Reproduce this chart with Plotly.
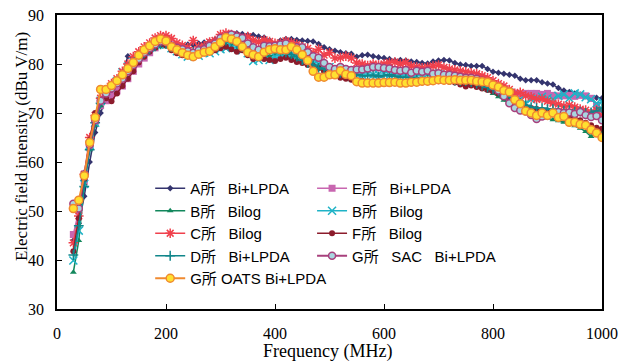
import plotly.graph_objects as go

freq = list(range(30, 1001, 10))

a_bilpda = [
    44.0, 47.5, 53.0, 60.0, 66.0, 70.0, 73.0, 74.5, 76.0, 78.0,
    81.6, 81.0, 81.5, 82.5, 83.3, 84.0, 84.5, 84.8, 84.0, 83.8,
    83.8, 84.0, 83.9, 84.2, 84.4, 84.6, 85.0, 85.5, 85.9, 86.2,
    86.3, 86.1, 85.9, 85.9, 85.6, 85.4, 84.8, 84.1, 84.8, 85.1,
    85.1, 84.9, 84.8, 84.7, 84.6, 84.1, 83.4, 83.0, 82.7, 82.4,
    82.2, 82.1, 81.5, 81.8, 81.9, 81.6, 81.4, 81.2, 81.0, 80.7,
    80.8, 80.7, 80.5, 80.4, 80.2, 80.1, 80.5, 80.7, 80.8, 80.7,
    80.2, 79.9, 79.8, 79.6, 79.6, 79.6, 79.0, 78.4, 78.2, 78.0,
    77.8, 77.6, 77.0, 76.7, 76.7, 76.7, 76.3, 76.0, 75.8, 75.1,
    74.6, 74.3, 74.0, 73.8, 73.4, 72.9, 73.1, 73.0]

e_bilpda = [
    45.2, 50.0, 56.0, 63.0, 68.0, 71.5, 72.5, 73.5, 74.5, 75.5,
    77.0, 78.5, 80.0, 81.2, 82.3, 83.3, 84.0, 84.2, 83.6, 83.2,
    82.8, 82.5, 82.2, 82.6, 82.9, 83.5, 84.0, 85.0, 85.4, 85.8,
    85.4, 85.0, 84.0, 83.3, 82.8, 83.4, 83.4, 83.5, 83.8, 84.0,
    83.4, 83.2, 83.0, 82.2, 81.4, 81.0, 80.0, 79.2, 78.8, 79.2,
    78.8, 78.6, 78.7, 78.7, 78.9, 79.2, 79.2, 79.0, 78.9, 78.6,
    78.4, 78.6, 78.0, 78.4, 78.2, 78.4, 77.8, 77.9, 77.6, 77.6,
    77.4, 77.2, 77.0, 77.0, 76.8, 76.5, 76.0, 75.6, 75.0, 74.5,
    74.0, 74.0, 73.8, 74.0, 74.0, 74.0, 73.8, 74.0, 73.6, 73.5,
    73.5, 73.6, 73.4, 73.6, 73.5, 73.0, 71.5, 70.5]

b_bilog_green = [
    37.5, 44.0, 55.5, 62.5, 67.5, 71.5, 73.5, 75.5, 76.0, 77.0,
    78.5, 79.8, 81.0, 82.0, 82.8, 83.2, 83.5, 83.5, 83.2, 83.0,
    82.8, 82.6, 82.4, 82.5, 82.8, 83.0, 83.4, 83.8, 84.0, 84.1,
    84.0, 83.6, 82.9, 82.2, 81.8, 81.8, 81.6, 82.0, 82.1, 81.8,
    81.4, 80.9, 80.4, 79.9, 79.4, 79.0, 78.6, 78.2, 77.8, 77.4,
    77.1, 76.8, 76.7, 76.5, 76.3, 76.3, 76.3, 76.3, 76.3, 76.3,
    76.2, 76.3, 76.2, 76.3, 76.3, 76.4, 76.5, 76.5, 76.6, 76.6,
    76.6, 76.5, 76.3, 76.0, 75.5, 75.0, 74.6, 74.0, 73.3, 72.6,
    71.8, 71.2, 70.8, 70.3, 70.0, 69.7, 69.4, 69.0, 68.6, 68.4,
    68.1, 67.8, 67.4, 66.9, 66.2, 65.2, 65.8, 66.0]

b_bilog_cyan = [
    39.9, 46.0, 55.5, 63.5, 68.0, 72.5, 74.5, 75.0, 76.5, 78.3,
    79.5, 80.5, 81.5, 82.5, 83.3, 84.0, 84.2, 84.0, 83.2, 82.6,
    82.0, 81.5, 82.2, 81.7, 82.3, 82.2, 82.6, 83.0, 83.2, 83.6,
    83.3, 82.8, 82.2, 80.6, 80.8, 81.4, 80.8, 81.5, 82.0, 82.3,
    82.0, 81.7, 81.3, 80.7, 80.4, 80.0, 79.7, 79.4, 79.1, 78.9,
    78.5, 78.2, 78.0, 77.8, 78.0, 77.8, 77.9, 78.0, 77.7, 77.8,
    77.6, 77.8, 77.4, 77.6, 77.8, 77.9, 78.2, 78.0, 77.8, 77.7,
    77.5, 77.2, 77.0, 76.8, 76.6, 76.3, 76.0, 75.6, 75.0, 74.5,
    74.2, 73.5, 72.8, 72.0, 72.8, 73.0, 73.3, 73.0, 72.8, 73.5,
    73.8, 73.0, 74.0, 73.8, 73.2, 72.8, 72.0, 72.3]

c_bilog = [
    43.5, 49.0, 57.5, 65.0, 69.5, 73.0, 74.5, 76.0, 77.0, 78.5,
    80.0, 81.5, 82.5, 83.5, 84.3, 85.3, 85.8, 85.8, 85.2, 84.3,
    83.8, 83.3, 84.8, 83.5, 83.7, 84.5, 84.8, 86.0, 86.3, 86.0,
    85.7, 85.2, 85.6, 84.8, 84.5, 84.9, 84.6, 84.2, 84.3, 84.7,
    84.4, 84.0, 83.5, 83.2, 82.3, 83.0, 81.8, 82.3, 81.2, 81.3,
    81.6, 81.2, 80.2, 80.0, 79.7, 80.0, 79.8, 80.0, 80.3, 80.4,
    80.0, 80.3, 79.6, 79.4, 79.2, 79.4, 79.6, 79.8, 79.3, 79.0,
    78.8, 78.6, 78.4, 78.2, 78.0, 77.6, 77.2, 76.6, 76.0, 75.5,
    74.8, 74.0, 74.2, 73.5, 73.3, 72.8, 72.9, 72.4, 72.0, 71.8,
    71.4, 71.6, 71.2, 70.8, 70.6, 70.0, 70.6, 69.5]

f_bilog = [
    41.8, 48.5, 56.5, 64.5, 70.0, 72.5, 73.0, 72.4, 74.0, 75.5,
    77.0, 78.5, 80.3, 81.5, 82.5, 83.3, 84.0, 83.8, 82.8, 82.2,
    81.8, 81.9, 81.6, 82.0, 82.3, 82.4, 82.8, 83.2, 83.5, 83.0,
    82.5, 82.8, 81.8, 81.0, 81.2, 81.0, 80.8, 80.6, 81.0, 81.3,
    80.8, 80.4, 80.2, 79.8, 79.6, 79.2, 78.5, 78.0, 77.6, 77.2,
    77.0, 76.8, 76.6, 76.6, 76.3, 76.4, 76.5, 76.2, 76.4, 76.3,
    76.1, 76.2, 76.0, 76.2, 76.2, 76.3, 76.4, 76.5, 76.5, 76.4,
    76.2, 75.8, 75.4, 75.6, 75.3, 75.0, 74.7, 74.4, 74.0, 73.2,
    72.5, 72.0, 71.6, 71.2, 71.0, 70.8, 70.6, 70.5, 70.2, 69.9,
    69.6, 69.3, 68.9, 68.5, 68.0, 67.5, 67.0, 66.8]

d_bilpda = [
    41.0, 47.0, 55.0, 62.5, 68.0, 72.0, 74.5, 75.5, 76.5, 77.5,
    79.0, 80.3, 81.3, 82.3, 83.0, 83.6, 84.0, 84.1, 83.5, 83.0,
    82.6, 82.4, 82.3, 82.8, 83.0, 83.4, 83.8, 84.3, 84.8, 84.5,
    84.0, 83.5, 83.0, 82.5, 82.2, 82.6, 82.6, 82.8, 82.6, 82.4,
    82.0, 81.5, 80.8, 80.2, 79.8, 79.2, 79.0, 78.8, 78.5, 78.2,
    78.0, 77.8, 77.8, 77.6, 77.6, 77.7, 77.4, 77.6, 77.8, 77.5,
    77.3, 77.3, 77.2, 77.0, 77.2, 77.0, 76.9, 77.0, 76.9, 76.7,
    76.6, 76.5, 76.5, 76.3, 76.0, 75.6, 75.2, 74.8, 74.4, 73.8,
    73.2, 72.5, 72.0, 71.6, 71.2, 71.0, 71.0, 70.8, 70.8, 70.6,
    70.5, 70.6, 70.3, 70.3, 70.0, 70.1, 70.4, 71.0]

g_sac_bilpda = [
    51.5, 50.5, 57.5, 63.5, 68.5, 72.5, 74.0, 75.0, 76.0, 77.0,
    78.5, 79.8, 81.0, 82.3, 83.2, 84.0, 84.6, 84.5, 83.8, 83.3,
    83.0, 82.6, 82.3, 82.8, 83.0, 83.7, 84.2, 85.3, 85.6, 86.0,
    85.6, 85.3, 84.2, 83.4, 82.9, 83.7, 83.6, 83.7, 84.0, 84.2,
    83.6, 83.4, 83.4, 82.4, 81.6, 81.3, 80.2, 79.4, 79.0, 79.4,
    79.0, 78.8, 78.9, 78.9, 79.1, 79.4, 79.4, 79.2, 79.1, 78.8,
    78.6, 78.8, 78.2, 78.6, 78.4, 78.6, 78.0, 78.1, 77.8, 77.8,
    77.6, 77.4, 77.2, 77.2, 77.0, 76.6, 76.2, 75.6, 74.6, 73.4,
    72.0, 71.0, 70.5, 70.3, 69.6, 68.8, 69.3, 69.6, 70.0, 70.2,
    70.0, 70.1, 69.8, 70.2, 69.6, 69.2, 69.4, 68.5]

g_oats_bilpda = [
    50.5, 52.2, 57.2, 64.0, 69.1, 74.8, 74.8, 75.6, 76.6, 77.8,
    79.1, 80.3, 81.8, 82.9, 83.7, 84.6, 85.1, 84.7, 83.5, 82.9,
    82.3, 81.8, 81.5, 82.0, 82.4, 82.6, 83.5, 84.4, 85.4, 85.1,
    84.6, 83.5, 82.4, 81.9, 81.5, 82.4, 82.9, 83.1, 82.9, 82.9,
    83.5, 82.9, 81.9, 80.7, 78.5, 77.3, 77.3, 77.8, 77.8, 78.6,
    77.9, 77.6, 76.4, 76.1, 76.1, 76.1, 76.1, 76.2, 76.2, 76.3,
    76.1, 76.1, 76.3, 76.3, 76.5, 76.5, 76.6, 76.8, 76.7, 76.7,
    76.8, 76.7, 76.7, 76.7, 76.5, 76.4, 76.3, 75.7, 75.3, 74.6,
    74.3, 72.7, 71.9, 70.4, 70.0, 69.5, 70.0, 69.5, 70.0, 69.1,
    69.3, 68.1, 68.1, 67.7, 67.5, 66.6, 65.9, 65.0]

S3 = "\u00a0\u00a0\u00a0"
names = [
    "A所" + S3 + "Bi+LPDA",
    "E所" + S3 + "Bi+LPDA",
    "B所" + S3 + "Bilog",
    "B所" + S3 + "Bilog",
    "C所" + S3 + "Bilog",
    "F所" + S3 + "Bilog",
    "D所" + S3 + "Bi+LPDA",
    "G所" + S3 + "SAC" + S3 + "Bi+LPDA",
    "G所 OATS Bi+LPDA",
]
series = [a_bilpda, e_bilpda, b_bilog_green, b_bilog_cyan, c_bilog,
          f_bilog, d_bilpda, g_sac_bilpda, g_oats_bilpda]
legend_ids = ["legend", "legend2", "legend", "legend2", "legend",
              "legend2", "legend", "legend2", "legend"]

styles = [
    dict(line=dict(color="#34346e", width=1.5),
         marker=dict(symbol="diamond", size=5, color="#34346e")),
    dict(line=dict(color="#c866b0", width=1.5),
         marker=dict(symbol="square", size=7, color="#c866b0")),
    dict(line=dict(color="#12875c", width=1.5),
         marker=dict(symbol="triangle-up", size=6, color="#12875c")),
    dict(line=dict(color="#1fb3c6", width=1.5),
         marker=dict(symbol="x-thin-open", size=8, color="#1fb3c6",
                     line=dict(color="#1fb3c6", width=1.5))),
    dict(line=dict(color="#f0404c", width=1.5),
         marker=dict(symbol="asterisk-open", size=8, color="#f0404c",
                     line=dict(color="#f0404c", width=1.5))),
    dict(line=dict(color="#8c1c2c", width=1.5),
         marker=dict(symbol="circle", size=6, color="#8c1c2c")),
    dict(line=dict(color="#10868a", width=1.5),
         marker=dict(symbol="cross-thin-open", size=7, color="#10868a",
                     line=dict(color="#10868a", width=1.5))),
    dict(line=dict(color="#a8407c", width=2),
         marker=dict(symbol="circle", size=7, color="#a8d6e0",
                     line=dict(color="#a8407c", width=1.5))),
    dict(line=dict(color="#f08a30", width=2),
         marker=dict(symbol="circle", size=8, color="#ffe030",
                     line=dict(color="#f08a30", width=1.5))),
]

fig = go.Figure()
for name, vals, st, lg in zip(names, series, styles, legend_ids):
    fig.add_trace(go.Scatter(x=freq, y=vals, mode="lines+markers",
                             name=name, legend=lg, **st))

serif = "Liberation Serif, Times New Roman, serif"
sans = "Liberation Sans, Noto Sans CJK JP, Arial, sans-serif"
leg_common = dict(
    orientation="v", xanchor="left", yanchor="top",
    font=dict(family=sans, size=15, color="black"),
    bgcolor="rgba(0,0,0,0)", itemwidth=30, traceorder="normal",
    borderwidth=0,
)
fig.update_layout(
    width=631, height=362,
    margin=dict(l=57, r=29, t=15, b=53, autoexpand=False),
    paper_bgcolor="white", plot_bgcolor="white",
    font=dict(family=serif, color="black", size=16),
    legend=dict(x=0.171, y=0.466, **leg_common),
    legend2=dict(x=0.468, y=0.466, **leg_common),
    xaxis=dict(
        range=[0, 1000], tickvals=[0, 200, 400, 600, 800, 1000],
        ticks="inside", ticklen=5, tickwidth=1, tickcolor="black",
        showline=True, linecolor="black", linewidth=1.5, mirror=True,
        showgrid=False, zeroline=False, ticklabelstandoff=9,
        tickfont=dict(family=serif, size=16), automargin=False,
    ),
    yaxis=dict(
        range=[30, 90], tickvals=[30, 40, 50, 60, 70, 80, 90],
        ticks="inside", ticklen=5, tickwidth=1, tickcolor="black",
        showline=True, linecolor="black", linewidth=1.5, mirror=True,
        showgrid=False, zeroline=False, ticklabelstandoff=8,
        tickfont=dict(family=serif, size=16), automargin=False,
    ),
    annotations=[
        dict(text="Frequency (MHz)", xref="paper", yref="paper",
             x=0.497, y=-0.146, xanchor="center", yanchor="middle",
             showarrow=False, font=dict(family=serif, size=18)),
        dict(text="Electric field intensity (dBu V/m)", xref="paper",
             yref="paper", x=-0.066, y=0.551, xanchor="center",
             yanchor="middle", textangle=-90, showarrow=False,
             font=dict(family=serif, size=17)),
    ],
)

fig.write_html("out.html")
